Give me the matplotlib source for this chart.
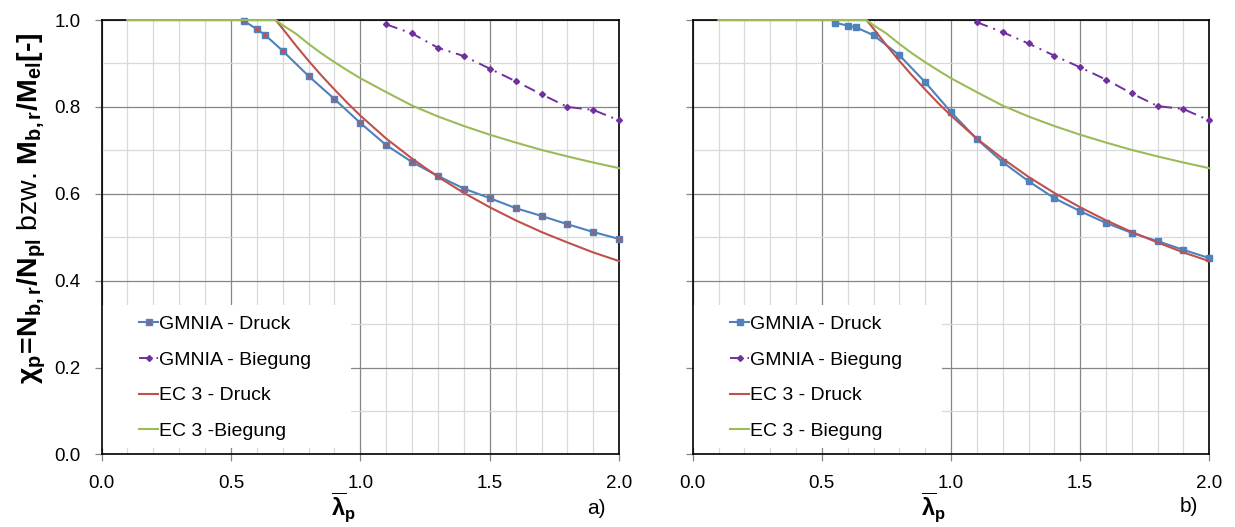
import matplotlib.pyplot as plt
from matplotlib.patches import Rectangle
from matplotlib.ticker import MultipleLocator

plt.rcParams['font.family'] = ['Liberation Sans', 'DejaVu Sans']
plt.rcParams['mathtext.fontset'] = 'custom'
plt.rcParams['mathtext.rm'] = 'Liberation Sans'
plt.rcParams['mathtext.it'] = 'Liberation Sans:italic'
plt.rcParams['mathtext.bf'] = 'Liberation Sans:bold'

# GMNIA results (slenderness vs. reduction factor)
gm_x_druck = [0.55, 0.6, 0.633, 0.7, 0.8, 0.9, 1.0, 1.1, 1.2, 1.3, 1.4, 1.5, 1.6, 1.7, 1.8, 1.9, 2.0]
gm_a_druck = [0.998, 0.979, 0.965, 0.929, 0.871, 0.818, 0.763, 0.712, 0.673, 0.641,
              0.612, 0.590, 0.567, 0.549, 0.530, 0.512, 0.496]
gm_b_druck = [0.994, 0.987, 0.983, 0.965, 0.919, 0.857, 0.788, 0.726, 0.673, 0.629,
              0.590, 0.560, 0.533, 0.510, 0.491, 0.471, 0.452]

gm_x_biegung = [1.1, 1.2, 1.3, 1.4, 1.5, 1.6, 1.7, 1.8, 1.9, 2.0]
gm_a_biegung = [0.990, 0.969, 0.936, 0.917, 0.888, 0.859, 0.829, 0.800, 0.793, 0.769]
gm_b_biegung = [0.995, 0.972, 0.946, 0.918, 0.891, 0.863, 0.831, 0.802, 0.795, 0.769]

# EC 3 design curves
ec_x = [0.1, 0.2, 0.3, 0.4, 0.5, 0.6, 0.673, 0.7, 0.75, 0.8, 0.85, 0.9, 0.95, 1.0,
        1.1, 1.2, 1.3, 1.4, 1.5, 1.6, 1.7, 1.8, 1.9, 2.0]
ec_druck = [1.0, 1.0, 1.0, 1.0, 1.0, 1.0, 1.0, 0.980, 0.942, 0.906, 0.872, 0.840, 0.809, 0.780,
            0.727, 0.681, 0.639, 0.602, 0.569, 0.539, 0.512, 0.488, 0.465, 0.445]
ec_biegung = [1.0, 1.0, 1.0, 1.0, 1.0, 1.0, 1.0, 0.988, 0.969, 0.945, 0.923, 0.903, 0.884, 0.866,
              0.834, 0.803, 0.778, 0.756, 0.736, 0.718, 0.701, 0.686, 0.672, 0.659]

labels_a = ['GMNIA - Druck', 'GMNIA - Biegung', 'EC 3 - Druck', 'EC 3 -Biegung']
labels_b = ['GMNIA - Druck', 'GMNIA - Biegung', 'EC 3 - Druck', 'EC 3 - Biegung']

BLUE = '#4F81BD'
RED = '#C0504D'
GREEN = '#9BBB59'
PURPLE = '#7030A0'


def draw_panel(ax, druck, biegung, labels, crosses):
    ax.set_xlim(0, 2.0)
    ax.set_ylim(0, 1.0)
    ax.xaxis.set_major_locator(MultipleLocator(0.5))
    ax.xaxis.set_minor_locator(MultipleLocator(0.1))
    ax.yaxis.set_major_locator(MultipleLocator(0.2))
    ax.yaxis.set_minor_locator(MultipleLocator(0.1))
    ax.set_axisbelow(True)
    ax.grid(which='minor', color='#D9D9D9', lw=0.9)
    ax.grid(which='major', color='#868686', lw=0.9)
    ax.tick_params(which='major', length=5, width=0.9, color='#868686',
                   labelsize=13.5, pad=10)
    ax.tick_params(which='minor', length=0)
    for sp in ax.spines.values():
        sp.set_color('black')
        sp.set_linewidth(1.2)

    # white area behind the legend hides the grid
    ax.add_patch(Rectangle((0.0, 0.015), 0.482, 0.329, transform=ax.transAxes,
                           facecolor='white', edgecolor='none', zorder=1))

    l1, = ax.plot(gm_x_druck, druck, color=BLUE, lw=1.5, marker='s', ms=4,
                  mfc=BLUE, mec=BLUE, zorder=3, clip_on=False)
    h1 = l1
    if crosses:
        xm, = ax.plot(gm_x_druck, druck, ls='none', marker='x', ms=3, mew=0.8,
                      color=RED, zorder=3.5, clip_on=False)
        h1 = (l1, xm)
    l2, = ax.plot(gm_x_biegung, biegung, color=PURPLE, lw=1.4, dashes=(6, 3, 1, 3),
                  marker='D', ms=3, zorder=4, clip_on=False)
    l3, = ax.plot(ec_x, ec_druck, color=RED, lw=1.5, zorder=5, clip_on=False)
    l4, = ax.plot(ec_x, ec_biegung, color=GREEN, lw=1.5, zorder=6, clip_on=False)

    ax.legend([h1, l2, l3, l4], labels, loc='upper left', bbox_to_anchor=(0.072, 0.32),
              frameon=False, fontsize=14, handlelength=1.0, handletextpad=0.05,
              labelspacing=0.93, borderpad=0, borderaxespad=0)


fig = plt.figure(figsize=(12.35, 5.27), dpi=100)
ax_a = fig.add_axes([0.0822, 0.1376, 0.4192, 0.8244])
ax_b = fig.add_axes([0.5609, 0.1376, 0.4183, 0.8244])

draw_panel(ax_a, gm_a_druck, gm_a_biegung, labels_a, True)
draw_panel(ax_b, gm_b_druck, gm_b_biegung, labels_b, False)
ax_b.tick_params(axis='y', labelleft=False)

fig.text(0.026, 0.605,
         '$\\mathbf{\\chi_p\\!=\\!N_{b,r}/N_{pl}}$ bzw. $\\mathbf{M_{b,r}/M_{el}[\u2010]}$',
         rotation=90, ha='center', va='center', fontsize=20.5)

for xpos in (0.278, 0.756):
    fig.text(xpos, 0.036, r'$\mathbf{\overline{\lambda}_p}$', ha='center', va='center',
             fontsize=17)
fig.text(0.483, 0.035, 'a)', ha='center', va='center', fontsize=15)
fig.text(0.963, 0.038, 'b)', ha='center', va='center', fontsize=15)

fig.savefig('out.png', dpi=100)
